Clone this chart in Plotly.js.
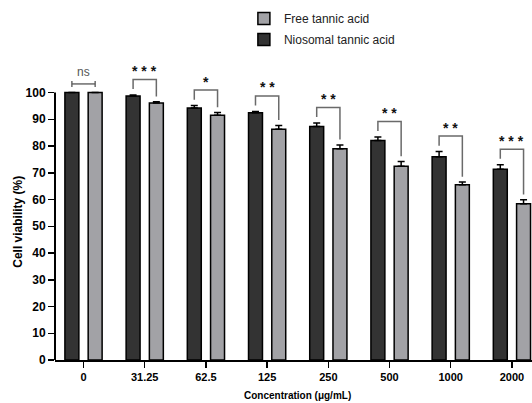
<!DOCTYPE html>
<html>
<head>
<meta charset="utf-8">
<script src="https://cdn.plot.ly/plotly-3.0.1.min.js"></script>
<style>html,body{margin:0;padding:0;background:#fff;}#chart{width:532px;height:403px;}</style>
</head>
<body>
<div id="chart"></div>
<script>
const categories = ['0', '31.25', '62.5', '125', '250', '500', '1000', '2000'];
const niosomal = [100, 98.7, 94.2, 92.4, 87.3, 82.1, 76.0, 71.3];
const niosomalErr = [0, 0.4, 0.9, 0.5, 1.3, 1.3, 1.9, 1.7];
const free = [100, 96.1, 91.5, 86.3, 79.0, 72.4, 65.5, 58.4];
const freeErr = [0, 0.4, 1.0, 1.4, 1.4, 1.8, 1.0, 1.5];
const significance = ['ns', '* * *', '*', '* *', '* *', '* *', '* *', '* * *'];
const yTicks = [0, 10, 20, 30, 40, 50, 60, 70, 80, 90, 100];

const FONT = 'Liberation Sans, Arial, sans-serif';
const bargap = 0.24;
const half = (1 - bargap) / 4;
const idx = categories.map((_, i) => i);

const errStyle = (arr) => ({type: 'data', array: arr, arrayminus: arr.map(() => 0), symmetric: false,
  color: '#000', thickness: 1.5, width: 3.5});

const traces = [
  {type: 'bar', name: 'Niosomal tannic acid', x: idx, y: niosomal, legendgroup: 'n', legendrank: 2,
   marker: {color: '#333333', line: {color: '#000', width: 1.5}}, error_y: errStyle(niosomalErr)},
  {type: 'bar', name: 'Free tannic acid', x: idx, y: free, legendgroup: 'f', legendrank: 1,
   marker: {color: '#a2a2a6', line: {color: '#000', width: 1.5}}, error_y: errStyle(freeErr)}
];

const shapes = [
  {type: 'line', xref: 'paper', yref: 'y', x0: 0, x1: 0, y0: 0, y1: 100, line: {color: '#000', width: 2}}
];
const annotations = [];
const brColor = '#6a6a6a';
idx.forEach(i => {
  const xL = i - half, xR = i + half;
  const dTop = niosomal[i] + niosomalErr[i];
  const fTop = free[i] + freeErr[i];
  let level;
  if (significance[i] === 'ns') {
    level = Math.max(dTop, fTop) + 3.2;
    shapes.push({type: 'line', xref: 'x', yref: 'y', x0: xL, x1: xR, y0: level, y1: level, line: {color: '#555', width: 1.3}});
    shapes.push({type: 'line', xref: 'x', yref: 'y', x0: xL, x1: xL, y0: level - 1.1, y1: level + 1.1, line: {color: '#555', width: 1.3}});
    shapes.push({type: 'line', xref: 'x', yref: 'y', x0: xR, x1: xR, y0: level - 1.1, y1: level + 1.1, line: {color: '#555', width: 1.3}});
    annotations.push({xref: 'x', yref: 'y', x: i, y: level + 4.6, text: 'ns', showarrow: false,
      font: {family: FONT, size: 12, color: '#555'}, yanchor: 'middle'});
  } else {
    const lb = dTop + 2.2;
    const rb = fTop + 2.0;
    level = Math.max(lb, rb) + 3.6;
    shapes.push({type: 'path', xref: 'x', yref: 'y',
      path: `M${xL},${lb} L${xL},${level} L${xR},${level} L${xR},${rb}`,
      line: {color: brColor, width: 1.5}});
    annotations.push({xref: 'x', yref: 'y', x: i, y: level + 4.5, text: '<b>' + significance[i] + '</b>', showarrow: false,
      font: {family: FONT, size: 14, color: '#111'}, yanchor: 'middle', yshift: -3.5});
  }
});

annotations.push({xref: 'paper', yref: 'paper', x: -0.077, y: 0.4617, text: '<b>Cell viability (%)</b>',
  textangle: -90, showarrow: false, font: {family: FONT, size: 12, color: '#000'}, xanchor: 'center', yanchor: 'middle'});
annotations.push({xref: 'x', yref: 'paper', x: 3.5, y: -0.118, text: '<b>Concentration (μg/mL)</b>',
  showarrow: false, font: {family: FONT, size: 10, color: '#000'}, xanchor: 'center', yanchor: 'middle'});

const layout = {
  width: 532, height: 403,
  margin: {l: 55, r: 0, t: 60, b: 43},
  paper_bgcolor: '#fff', plot_bgcolor: '#fff',
  barmode: 'group', bargap: bargap, bargroupgap: 0.4,
  showlegend: true,
  legend: {x: 0.396, y: 1.187, xanchor: 'left', yanchor: 'top', traceorder: 'grouped', tracegroupgap: 2,
    font: {family: FONT, size: 12, color: '#222'}, bgcolor: 'rgba(0,0,0,0)'},
  xaxis: {type: 'linear', range: [-0.466, 7.328], tickmode: 'array', tickvals: idx, ticktext: categories,
    showgrid: false, zeroline: false, showline: true, linecolor: '#000', linewidth: 2,
    ticks: 'outside', ticklen: 6, tickwidth: 1.5, tickcolor: '#000',
    tickfont: {family: FONT, size: 11, color: '#000', weight: 'bold'}},
  yaxis: {range: [0, 112.15], tickmode: 'array', tickvals: yTicks, showgrid: false, zeroline: false, showline: false,
    ticks: 'outside', ticklen: 6, tickwidth: 1.5, tickcolor: '#000',
    tickfont: {family: FONT, size: 12, color: '#000', weight: 'bold'}},
  shapes: shapes,
  annotations: annotations
};

Plotly.newPlot('chart', traces, layout, {displayModeBar: false, staticPlot: true});
</script>
</body>
</html>
